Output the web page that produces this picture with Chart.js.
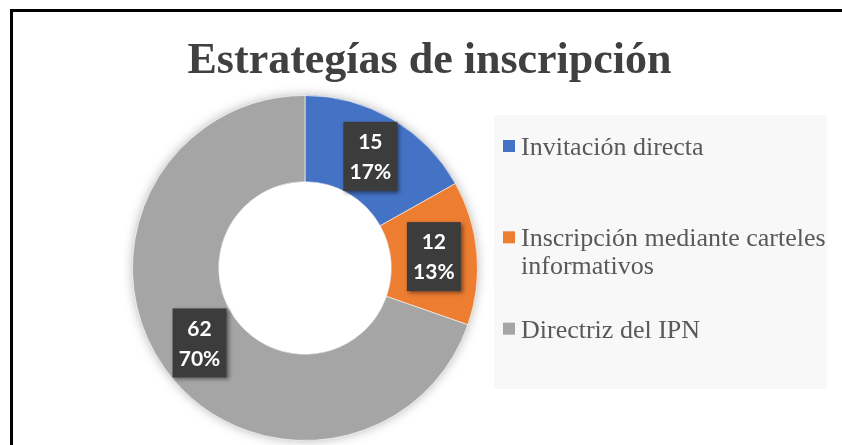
<!DOCTYPE html>
<html>
<head>
<meta charset="utf-8">
<script src="https://cdn.jsdelivr.net/npm/chart.js@4"></script>
<style>
  html, body { margin: 0; padding: 0; background: #ffffff; overflow: hidden; }
  #wrap { position: relative; width: 842px; height: 445px; overflow: hidden; }
  #frame { position: absolute; left: 10px; top: 9px; width: 860px; height: 470px;
           border-left: 3px solid #000; border-top: 3px solid #000; pointer-events: none; }
  canvas { position: absolute; left: 0; top: 0; }
</style>
</head>
<body>
<div id="wrap">
  <canvas id="c" width="842" height="445"></canvas>
  <div id="frame"></div>
</div>
<script>
const chartTitle = 'Estrategías de inscripción';
const categories = ['Invitación directa', 'Inscripción mediante carteles informativos', 'Directriz del IPN'];
const values = [15, 12, 62];
const sliceColors = ['#4472C4', '#ED7D31', '#A5A5A5'];

const total = values.reduce((a, b) => a + b, 0);

const ringShadow = {
  id: 'ringShadow',
  beforeDatasetsDraw(chart) {
    const arc = chart.getDatasetMeta(0).data[0];
    if (!arc) return;
    const { x, y, outerRadius, innerRadius } = arc.getProps(['x', 'y', 'outerRadius', 'innerRadius'], true);
    const ctx = chart.ctx;
    ctx.save();
    ctx.beginPath();
    ctx.rect(0, 0, chart.width, chart.height);
    ctx.arc(x, y, innerRadius, 0, Math.PI * 2, true);
    ctx.clip('evenodd');
    ctx.shadowColor = 'rgba(0,0,0,0.35)';
    ctx.shadowBlur = 12;
    ctx.beginPath();
    ctx.arc(x, y, outerRadius - 1, 0, Math.PI * 2);
    ctx.fillStyle = '#a5a5a5';
    ctx.fill();
    ctx.restore();
  }
};

const dataBoxes = {
  id: 'dataBoxes',
  afterDatasetsDraw(chart) {
    const ctx = chart.ctx;
    const meta = chart.getDatasetMeta(0);
    meta.data.forEach((arc, i) => {
      const p = arc.getCenterPoint();
      const v = chart.data.datasets[0].data[i];
      const pct = Math.round(v / total * 100) + '%';
      const w = 54, h = 69;
      ctx.save();
      ctx.shadowColor = 'rgba(0,0,0,0.45)';
      ctx.shadowBlur = 4;
      ctx.shadowOffsetX = 2;
      ctx.shadowOffsetY = 2;
      ctx.fillStyle = '#3c3c3c';
      ctx.fillRect(p.x - w / 2, p.y - h / 2, w, h);
      ctx.restore();
      ctx.save();
      ctx.fillStyle = '#ffffff';
      ctx.font = 'bold 21px Lato';
      ctx.textAlign = 'center';
      ctx.textBaseline = 'middle';
      ctx.fillText(String(v), p.x, p.y - 14);
      ctx.fillText(pct, p.x, p.y + 16);
      ctx.restore();
    });
  }
};

function wrapText(ctx, text, maxW) {
  const words = text.split(' ');
  const lines = [];
  let cur = '';
  words.forEach(wd => {
    const t = cur ? cur + ' ' + wd : wd;
    if (ctx.measureText(t).width > maxW && cur) { lines.push(cur); cur = wd; }
    else cur = t;
  });
  if (cur) lines.push(cur);
  return lines;
}

const titleAndLegend = {
  id: 'titleAndLegend',
  afterDraw(chart) {
    const ctx = chart.ctx;
    ctx.save();
    // title
    ctx.fillStyle = '#404040';
    ctx.font = 'bold 44px "Liberation Serif"';
    ctx.textAlign = 'center';
    ctx.textBaseline = 'alphabetic';
    ctx.fillText(chartTitle, 429.5, 73);
    // legend box
    const L = 494, T = 115, W = 333, H = 274;
    ctx.fillStyle = '#f8f8f8';
    ctx.fillRect(L, T, W, H);
    const slotH = H / chart.data.labels.length;
    ctx.font = '26px "Liberation Serif"';
    ctx.textAlign = 'left';
    chart.data.labels.forEach((lab, i) => {
      const base = T + 40 + i * slotH;
      ctx.fillStyle = chart.data.datasets[0].backgroundColor[i];
      ctx.fillRect(L + 9, base - 15, 12, 12);
      ctx.fillStyle = '#595959';
      const lines = wrapText(ctx, lab, 312);
      lines.forEach((ln, k) => ctx.fillText(ln, L + 27, base + k * 28));
    });
    ctx.restore();
  }
};

new Chart(document.getElementById('c'), {
  type: 'doughnut',
  data: {
    labels: categories,
    datasets: [{
      data: values,
      backgroundColor: sliceColors,
      borderColor: 'rgba(255,255,255,0.6)',
      borderWidth: 1,
      hoverOffset: 0
    }]
  },
  options: {
    responsive: false,
    animation: false,
    events: [],
    cutout: '50%',
    layout: { padding: { left: 132, right: 364, top: 94, bottom: 3 } },
    plugins: {
      legend: { display: false },
      title: { display: false },
      tooltip: { enabled: false }
    }
  },
  plugins: [ringShadow, dataBoxes, titleAndLegend]
});
</script>
</body>
</html>
